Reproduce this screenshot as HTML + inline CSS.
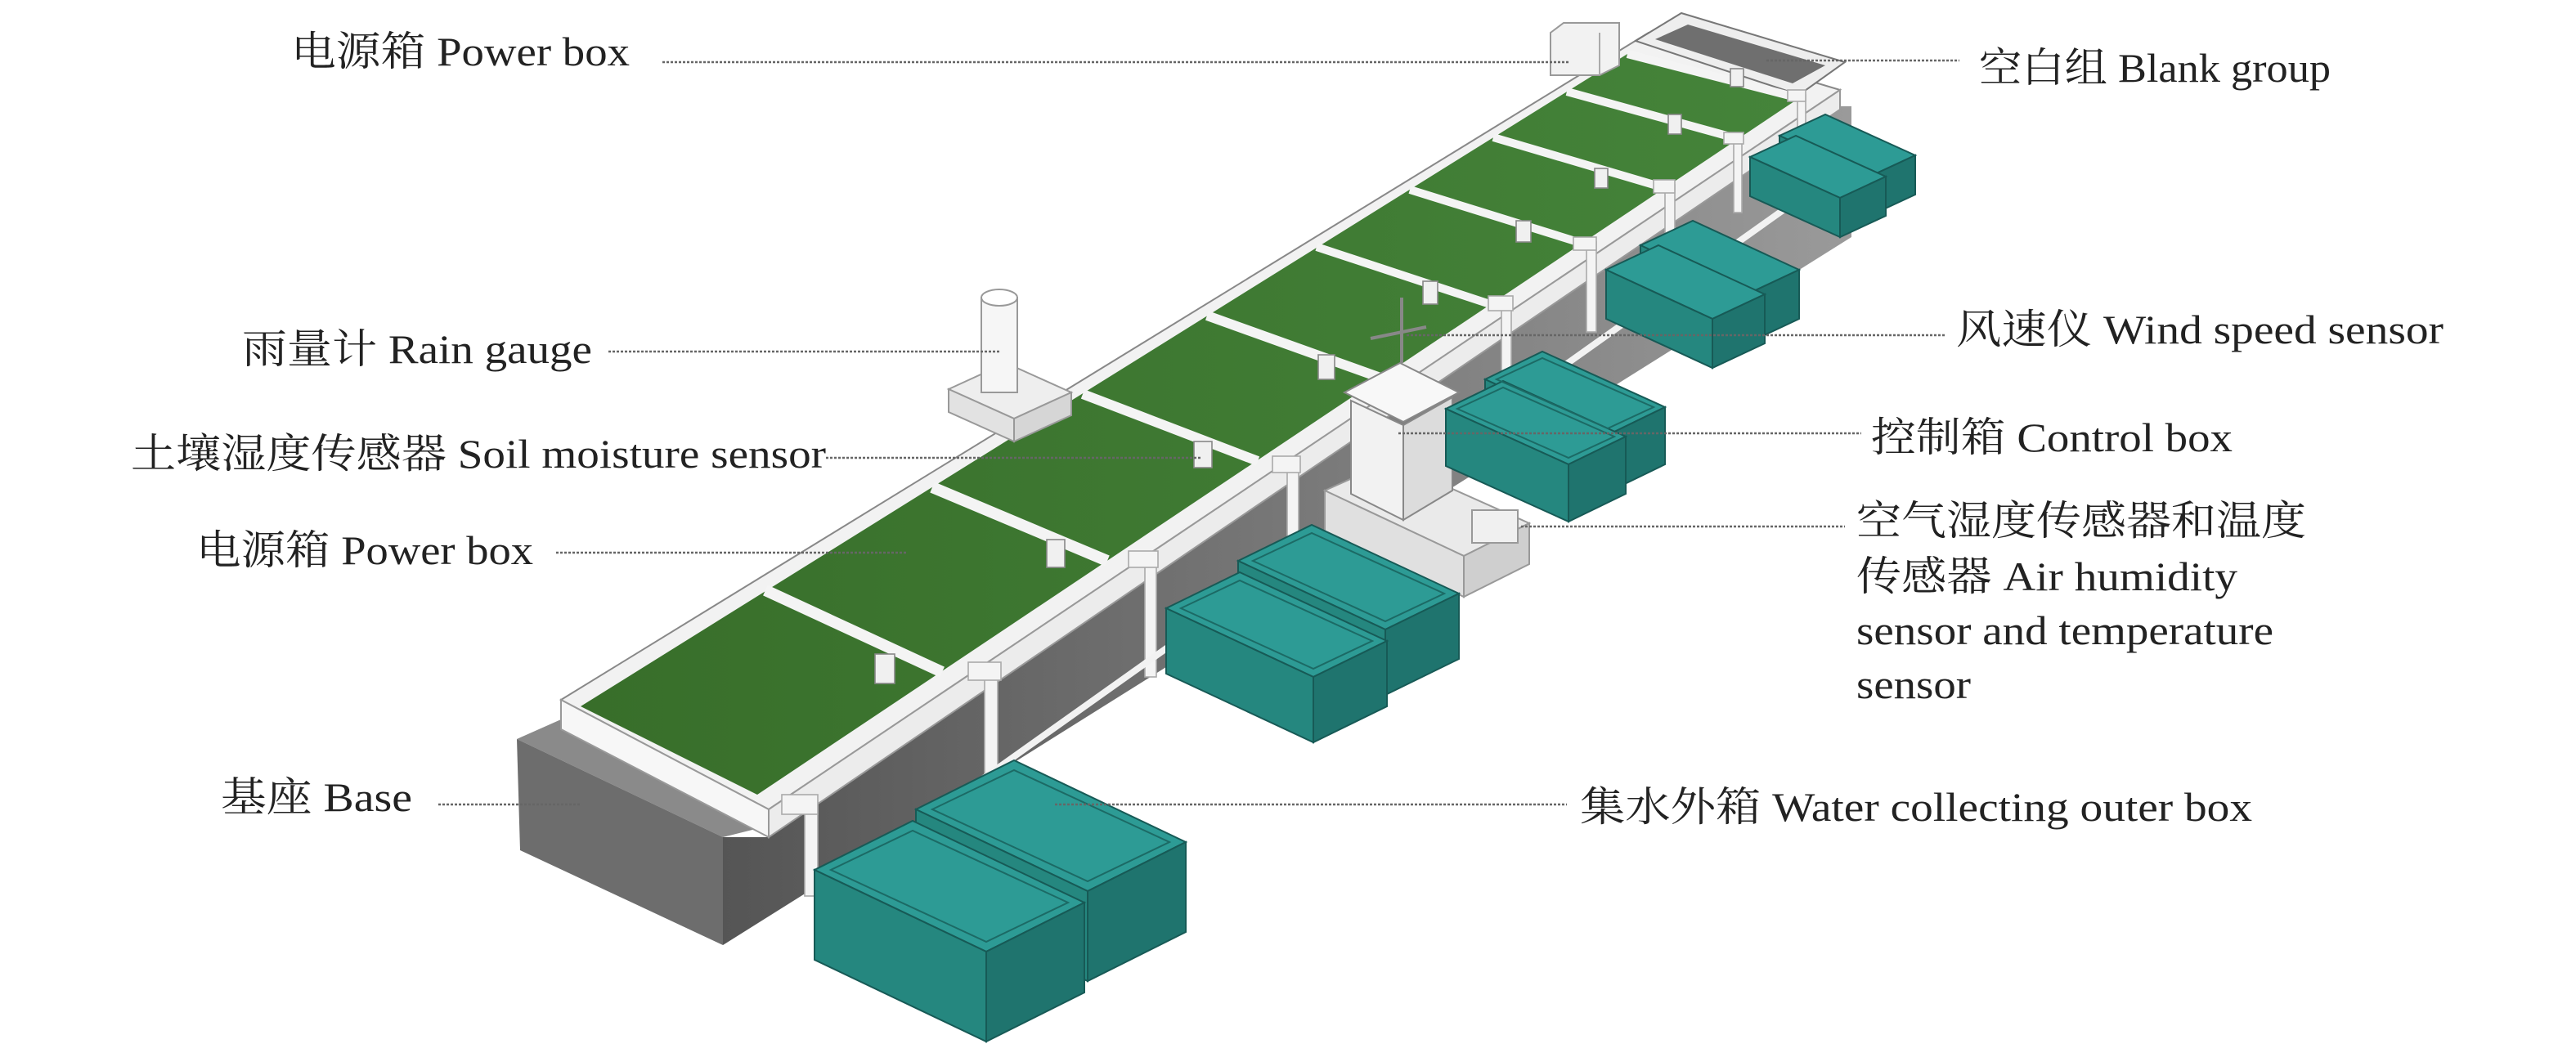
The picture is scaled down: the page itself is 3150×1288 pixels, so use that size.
<!DOCTYPE html>
<html><head><meta charset="utf-8"><style>
html,body{margin:0;padding:0;background:#fff;}
svg{display:block;}
text{font-family:"Liberation Serif","Noto Serif CJK SC",serif;font-size:25px;fill:#222;}
</style></head><body>
<svg width="3150" height="1288" viewBox="0 0 1575 644" xmlns="http://www.w3.org/2000/svg">
<defs>
<linearGradient id="wall" x1="0" y1="0" x2="1" y2="0">
<stop offset="0" stop-color="#555"/><stop offset="1" stop-color="#9a9a9a"/></linearGradient>
<linearGradient id="grass" x1="0" y1="0" x2="1" y2="0">
<stop offset="0" stop-color="#386e2a"/><stop offset="1" stop-color="#45843a"/></linearGradient>
</defs>
<rect width="1575" height="644" fill="#fff"/>

<polygon points="316,452 343,440 470,505 442,512" fill="#8a8a8a"/>
<polygon points="316,452 442,512 442,578 318,520" fill="#6d6d6d"/>
<polygon points="442,512 470,512 1125,65 1132,65 1132,145 442,578" fill="url(#wall)"/>
<polygon points="343,428 1008,20 1125,55 470,495" fill="#f2f2f2" stroke="#888" stroke-width="1"/>
<polygon points="343,428 470,495 470,512 343,446" fill="#f7f7f7" stroke="#999" stroke-width="1"/>
<polygon points="470,495 1125,55 1125,67 470,512" fill="#ececec" stroke="#999" stroke-width="1"/>
<polygon points="355,432 995,33 1100,60 463,486" fill="url(#grass)"/>
<polygon points="1000,25 1028,8 1128,38 1100,58" fill="#eee" stroke="#777"/>
<polygon points="1012,24 1032,15 1116,40 1096,51" fill="#6f6f6f"/>
<g stroke="#f4f4f4" stroke-linecap="butt">
<line x1="468" y1="361" x2="576" y2="411" stroke-width="7"/>
<line x1="570" y1="298" x2="677" y2="343" stroke-width="7"/>
<line x1="662" y1="241" x2="769" y2="282" stroke-width="6"/>
<line x1="738" y1="193" x2="844" y2="231" stroke-width="6"/>
<line x1="805" y1="151" x2="911" y2="186" stroke-width="5"/>
<line x1="862" y1="116" x2="968" y2="149" stroke-width="5"/>
<line x1="913" y1="84" x2="1018" y2="115" stroke-width="5"/>
<line x1="958" y1="56" x2="1063" y2="85" stroke-width="5"/>
<line x1="995" y1="33" x2="1100" y2="60" stroke-width="5"/>
</g>
<g fill="#f0f0f0" stroke="#888" stroke-width="0.8">
<rect x="535" y="400" width="12" height="18"/>
<rect x="640" y="330" width="11" height="17"/>
<rect x="730" y="270" width="11" height="16"/>
<rect x="806" y="217" width="10" height="15"/>
<rect x="870" y="172" width="9" height="14"/>
<rect x="927" y="135" width="9" height="13"/>
<rect x="975" y="103" width="8" height="12"/>
<rect x="1020" y="70" width="8" height="12"/>
<rect x="1058" y="42" width="8" height="11"/>
</g>
<g fill="#f4f4f4" stroke="#aaa" stroke-width="0.8">
<rect x="492" y="490" width="8" height="58"/><rect x="478" y="486" width="22" height="12"/>
<rect x="602" y="410" width="8" height="72"/><rect x="592" y="405" width="20" height="11"/>
<rect x="700" y="342" width="7" height="72"/><rect x="690" y="337" width="18" height="10"/>
<rect x="787" y="283" width="7" height="68"/><rect x="778" y="279" width="17" height="10"/>
<rect x="918" y="185" width="6" height="60"/><rect x="910" y="181" width="15" height="9"/>
<rect x="970" y="148" width="6" height="55"/><rect x="962" y="145" width="14" height="8"/>
<rect x="1018" y="113" width="6" height="50"/><rect x="1011" y="110" width="13" height="8"/>
<rect x="1060" y="84" width="5" height="46"/><rect x="1054" y="81" width="12" height="7"/>
<rect x="1099" y="58" width="5" height="40"/><rect x="1093" y="55" width="11" height="7"/>
</g>
<line x1="500" y1="548" x2="1105" y2="118" stroke="#f2f2f2" stroke-width="4"/>

<polygon points="580,238 615,222 655,240 620,256" fill="#eee" stroke="#999"/>
<polygon points="580,238 620,256 620,270 580,252" fill="#e2e2e2" stroke="#999"/>
<polygon points="620,256 655,240 655,254 620,270" fill="#d6d6d6" stroke="#999"/>
<rect x="600" y="182" width="22" height="58" fill="#f6f6f6" stroke="#999"/>
<ellipse cx="611" cy="182" rx="11" ry="5" fill="#fff" stroke="#999"/>
<polygon points="948,20 956,14 990,14 990,40 978,46 948,46" fill="#f2f2f2" stroke="#999"/>
<line x1="978" y1="20" x2="978" y2="46" stroke="#aaa"/>
<polygon points="810,300 850,282 935,320 895,340" fill="#eaeaea" stroke="#999"/>
<polygon points="810,300 895,340 895,365 810,325" fill="#e0e0e0" stroke="#999"/>
<polygon points="895,340 935,320 935,345 895,365" fill="#cfcfcf" stroke="#999"/>
<rect x="900" y="312" width="28" height="20" fill="#f0f0f0" stroke="#999"/>
<polygon points="826,245 858,260 858,318 826,302" fill="#f2f2f2" stroke="#888"/>
<polygon points="858,260 888,243 888,300 858,318" fill="#dcdcdc" stroke="#888"/>
<polygon points="822,240 856,222 892,240 858,258" fill="#f8f8f8" stroke="#888"/>
<line x1="857" y1="182" x2="857" y2="222" stroke="#888" stroke-width="2"/>
<line x1="838" y1="207" x2="872" y2="200" stroke="#888" stroke-width="2"/>

<g stroke="#175a56" stroke-width="1">
<polygon points="1088,83 1116,70 1171,95 1143,108" fill="#2d9b95"/><polygon points="1088,83 1143,108 1143,132 1088,107" fill="#25877f"/><polygon points="1143,108 1171,95 1171,119 1143,132" fill="#1f746e"/>
<polygon points="1070,96 1098,83 1153,108 1125,121" fill="#2d9b95"/><polygon points="1070,96 1125,121 1125,145 1070,120" fill="#25877f"/><polygon points="1125,121 1153,108 1153,132 1125,145" fill="#1f746e"/>
<polygon points="1003,150 1035,135 1100,165 1068,180" fill="#2d9b95"/><polygon points="1003,150 1068,180 1068,210 1003,180" fill="#25877f"/><polygon points="1068,180 1100,165 1100,195 1068,210" fill="#1f746e"/>
<polygon points="982,165 1014,150 1079,180 1047,195" fill="#2d9b95"/><polygon points="982,165 1047,195 1047,225 982,195" fill="#25877f"/><polygon points="1047,195 1079,180 1079,210 1047,225" fill="#1f746e"/>
<polygon points="908,232 943,215 1018,249 983,266" fill="#2d9b95"/><polygon points="908,232 983,266 983,301 908,267" fill="#25877f"/><polygon points="983,266 1018,249 1018,284 983,301" fill="#1f746e"/>
<polygon points="884,250 919,233 994,267 959,284" fill="#2d9b95"/><polygon points="884,250 959,284 959,319 884,285" fill="#25877f"/><polygon points="959,284 994,267 994,302 959,319" fill="#1f746e"/>
<polygon points="757,343 802,321 892,363 847,385" fill="#2d9b95"/><polygon points="757,343 847,385 847,425 757,383" fill="#25877f"/><polygon points="847,385 892,363 892,403 847,425" fill="#1f746e"/>
<polygon points="713,372 758,350 848,392 803,414" fill="#2d9b95"/><polygon points="713,372 803,414 803,454 713,412" fill="#25877f"/><polygon points="803,414 848,392 848,432 803,454" fill="#1f746e"/>
<polygon points="560,495 620,465 725,515 665,545" fill="#2d9b95"/><polygon points="560,495 665,545 665,600 560,550" fill="#25877f"/><polygon points="665,545 725,515 725,570 665,600" fill="#1f746e"/>
<polygon points="498,532 558,502 663,552 603,582" fill="#2d9b95"/><polygon points="498,532 603,582 603,637 498,587" fill="#25877f"/><polygon points="603,582 663,552 663,607 603,637" fill="#1f746e"/>
</g>
<g fill="none" stroke="#1c6a65" stroke-width="1">
<polygon points="508,532 558,508 653,552 603,576"/>
<polygon points="570,495 620,471 715,515 665,539"/>
<polygon points="722,372 758,355 839,392 803,409"/>
<polygon points="766,343 802,326 883,363 847,380"/>
<polygon points="891,250 919,237 987,267 959,280"/>
<polygon points="915,232 943,219 1011,249 983,262"/>
</g>

<g stroke="#666" stroke-width="1.2" stroke-dasharray="1.5 1">
<line x1="405" y1="38" x2="960" y2="38"/>
<line x1="372" y1="215" x2="612" y2="215"/>
<line x1="505" y1="280" x2="735" y2="280"/>
<line x1="340" y1="338" x2="555" y2="338"/>
<line x1="268" y1="492" x2="355" y2="492"/>
<line x1="1080" y1="37" x2="1198" y2="37"/>
<line x1="860" y1="205" x2="1190" y2="205"/>
<line x1="855" y1="265" x2="1138" y2="265"/>
<line x1="930" y1="322" x2="1128" y2="322"/>
<line x1="645" y1="492" x2="958" y2="492"/>
</g>
<text x="178" y="40" textLength="207" lengthAdjust="spacingAndGlyphs">电源箱 Power box</text>
<text x="148" y="222" textLength="214" lengthAdjust="spacingAndGlyphs">雨量计 Rain gauge</text>
<text x="80" y="286" textLength="425" lengthAdjust="spacingAndGlyphs">土壤湿度传感器 Soil moisture sensor</text>
<text x="120" y="345" textLength="206" lengthAdjust="spacingAndGlyphs">电源箱 Power box</text>
<text x="135" y="496" textLength="117" lengthAdjust="spacingAndGlyphs">基座 Base</text>
<text x="1210" y="50" textLength="215" lengthAdjust="spacingAndGlyphs">空白组 Blank group</text>
<text x="1196" y="210" textLength="298" lengthAdjust="spacingAndGlyphs">风速仪 Wind speed sensor</text>
<text x="1144" y="276" textLength="221" lengthAdjust="spacingAndGlyphs">控制箱 Control box</text>
<text x="1135" y="327" textLength="275" lengthAdjust="spacingAndGlyphs">空气湿度传感器和温度</text>
<text x="1135" y="361" textLength="233" lengthAdjust="spacingAndGlyphs">传感器 Air humidity</text>
<text x="1135" y="394" textLength="255" lengthAdjust="spacingAndGlyphs">sensor and temperature</text>
<text x="1135" y="427" textLength="70" lengthAdjust="spacingAndGlyphs">sensor</text>
<text x="966" y="502" textLength="411" lengthAdjust="spacingAndGlyphs">集水外箱 Water collecting outer box</text>
</svg>
</body></html>
